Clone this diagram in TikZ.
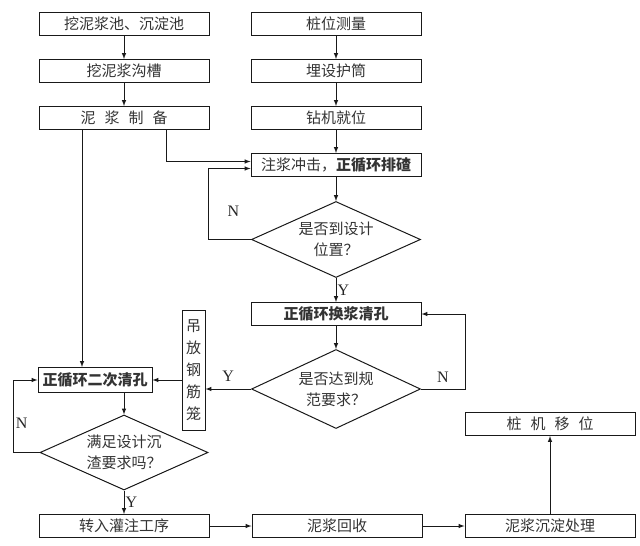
\documentclass[tikz,border=0pt]{standalone}
\usepackage{fontspec}
\setmainfont{Liberation Serif}
\newfontfamily\cjk{Noto Sans CJK SC}
\usetikzlibrary{positioning}
\usetikzlibrary{arrows,shapes.geometric}

\tikzset{
  proc/.style={draw=black!90, line width=1pt, text=black!80, minimum width=170pt,
    minimum height=23pt, inner sep=0pt, font=\cjk\fontsize{15}{18}\selectfont},
  test/.style={draw=black!90, line width=1pt, text=black!80, diamond, aspect=2.2, minimum width=169pt,
    minimum height=76pt, inner sep=0pt, align=center, font=\cjk\fontsize{15}{21}\selectfont},
  flow/.style={draw=black!90, line width=1pt, -latex},
  yn/.style={text=black!85, font=\fontsize{16}{18}\selectfont, inner sep=1pt}
}

\begin{document}
\begin{tikzpicture}[x=1pt,y=-1pt]
        \useasboundingbox (0,0) rectangle (640,546);
        % Define nodes
        \node[proc] (pool) at (124,24) {挖泥浆池、沉淀池};
        \node[proc, below=23pt of pool] (trench) {挖泥浆沟槽};
        \node[proc, below=23pt of trench] (mix) {泥\hspace{.6em}浆\hspace{.6em}制\hspace{.6em}备};
        \node[proc] (survey) at (336,24) {桩位测量};
        \node[proc, below=23pt of survey] (casing) {埋设护筒};
        \node[proc, below=23pt of casing] (rig) {钻机就位};
        \node[proc, below=23pt of rig] (drill) {注浆冲击，{\bfseries 正循环排碴}};
        \node[test, below=24pt of drill] (depth) {是否到设计\\位置？};
        \node[proc, below=24pt of depth] (clean) {\bfseries 正循环换浆清孔};
        \node[test, minimum height=79pt, below=23pt of clean] (spec) {是否达到规\\范要求？};
        \node[proc, minimum width=114pt, minimum height=25pt] (second) at (95,380) {\bfseries 正循环二次清孔};
        \node[proc, minimum width=23pt, minimum height=120pt, align=center,
          font=\cjk\fontsize{15}{22}\selectfont] (cage) at (193.5,370) {吊\\放\\钢\\筋\\笼};
        \node[test, minimum width=168pt, minimum height=75pt] (sediment) at (124,452.5) {满足设计沉\\渣要求吗？};
        \node[proc] (pour) at (124,526) {转入灌注工序};
        \node[proc, right=42pt of pour] (recycle) {泥浆回收};
        \node[proc, right=42pt of recycle] (settle) {泥浆沉淀处理};
        \node[proc, above=78pt of settle] (move) {桩\hspace{.6em}机\hspace{.6em}移\hspace{.6em}位};
        % Connect nodes
        \draw[flow] (pool) -- (trench);
        \draw[flow] (trench) -- (mix);
        \draw[flow] (survey) -- (casing);
        \draw[flow] (casing) -- (rig);
        \draw[flow] (rig) -- (drill);
        \draw[flow] ([xshift=42pt]mix.south) |- ([yshift=3.5pt]drill.west);
        \draw[flow] ([xshift=-42pt]mix.south) -- ([xshift=-42pt]mix.south |- second.north);
        \draw[flow] (drill) -- (depth);
        \draw[flow] (depth.west) -- ++(-43,0) |- node[yn, pos=0.2, right=18pt] {N} ([yshift=-3.5pt]drill.west);
        \draw[flow] (depth) -- node[yn, right] {Y} (clean);
        \draw[flow] (clean) -- (spec);
        \draw[flow] (spec.east) -- node[yn, above=5pt] {N} ++(44,0) |- (clean.east);
        \draw[flow] (spec.west) -- node[yn, above=6pt] {Y} (spec.west -| cage.east);
        \draw[flow] (cage.west |- second.east) -- (second.east);
        \draw[flow] (second.south -| sediment.north) -- (sediment.north);
        \draw[flow] (sediment.west) -- ++(-26,0) |- node[yn, pos=0.2, right=1pt] {N} (second.west);
        \draw[flow] (sediment) -- node[yn, right] {Y} (pour);
        \draw[flow] (pour) -- (recycle);
        \draw[flow] (recycle) -- (settle);
        \draw[flow] (settle) -- (move);
    \end{tikzpicture}
\end{document}
